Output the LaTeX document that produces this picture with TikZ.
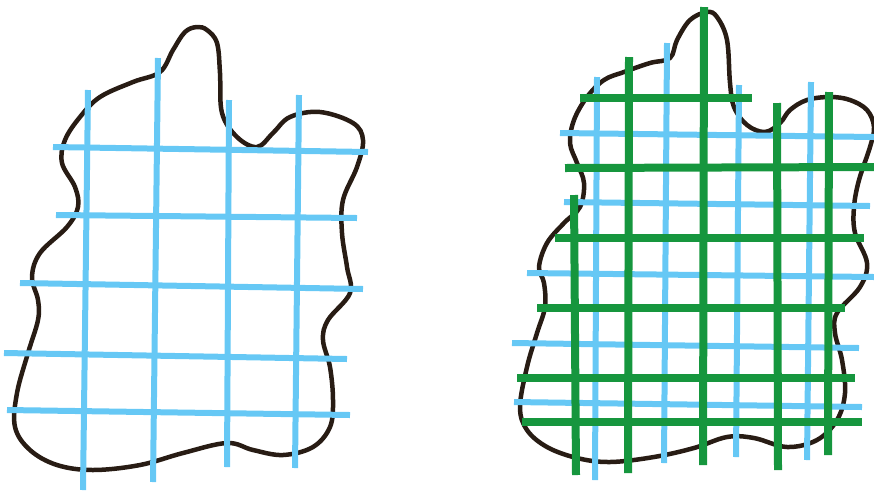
\documentclass[tikz,border=0pt]{standalone}
\usepackage{xcolor}
\usepackage{tikz}

\definecolor{skyline}{RGB}{102,200,245}
\definecolor{leafline}{RGB}{22,150,62}
\definecolor{rimline}{RGB}{40,28,20}

\begin{document}
\begin{tikzpicture}[x=1pt,y=-1pt,
  rim/.style={rimline,line width=4.5pt,line join=round},
  skythread/.style={skyline,line width=6pt},
  leafthread/.style={leafline,line width=8pt}]
  \useasboundingbox (0,0) rectangle (874,491);
  % left patch
  \draw[rim] plot[smooth cycle,tension=0.6] coordinates {
    (197,27) (185,32) (173,50) (160,72) (133,82) (100,97) (80,117) (65,140) (62,163)
    (75,187) (78,207) (67,227) (40,253) (32,277) (38,300) (38,320) (28,353) (17,393)
    (15,427) (30,450) (57,465) (93,470) (140,465) (183,453) (227,443) (253,450)
    (283,455) (313,447) (330,427) (333,400) (330,367) (323,340) (328,320) (350,293)
    (347,267) (342,233) (343,200) (357,167) (363,140) (353,123) (320,112) (290,117)
    (273,133) (257,147) (237,137) (222,113) (220,73) (217,43) (207,30)};
  \draw[skythread] (88,90) -- (83,490);
  \draw[skythread] (158,58) -- (153,482);
  \draw[skythread] (229,100) -- (227,467);
  \draw[skythread] (299,95) -- (295,468);
  \draw[skythread] (53,147) -- (368,152);
  \draw[skythread] (56,215) -- (357,218);
  \draw[skythread] (20,283) -- (363,289);
  \draw[skythread] (4,353) -- (347,359);
  \draw[skythread] (7,410) -- (350,415);
  % right patch
  \draw[rim] plot[smooth cycle,tension=0.6] coordinates {
    (707,12) (690,20) (677,40) (670,58) (650,63) (624,72) (604,80) (587,97) (574,120)
    (570,143) (577,163) (584,183) (580,207) (564,223) (547,243) (539,267) (544,283)
    (545,307) (537,333) (527,367) (520,407) (527,430) (547,447) (577,458) (610,462)
    (654,457) (694,448) (727,437) (754,438) (787,447) (817,440) (837,420) (845,393)
    (842,360) (835,333) (837,313) (860,287) (867,263) (855,233) (854,207) (859,180)
    (870,147) (874,127) (867,110) (850,100) (830,97) (807,100) (790,110) (780,123)
    (765,132) (747,125) (734,107) (730,83) (727,40) (717,17)};
  \draw[skythread] (597,77) -- (595,480);
  \draw[skythread] (667,43) -- (664,463);
  \draw[skythread] (739,85) -- (736,457);
  \draw[skythread] (811,82) -- (807,460);
  \draw[skythread] (560,133) -- (874,137);
  \draw[skythread] (564,202) -- (870,206);
  \draw[skythread] (527,273) -- (874,277);
  \draw[skythread] (512,343) -- (859,348);
  \draw[skythread] (514,402) -- (862,407);
  \draw[leafthread] (574,195) -- (576,475);
  \draw[leafthread] (629,57) -- (628,473);
  \draw[leafthread] (704,7) -- (703,465);
  \draw[leafthread] (777,103) -- (778,470);
  \draw[leafthread] (829,92) -- (828,455);
  \draw[leafthread] (580,98) -- (752,98);
  \draw[leafthread] (565,168) -- (874,167);
  \draw[leafthread] (555,238) -- (864,238);
  \draw[leafthread] (537,308) -- (845,308);
  \draw[leafthread] (517,378) -- (855,378);
  \draw[leafthread] (522,422) -- (862,422);
\end{tikzpicture}
\end{document}
